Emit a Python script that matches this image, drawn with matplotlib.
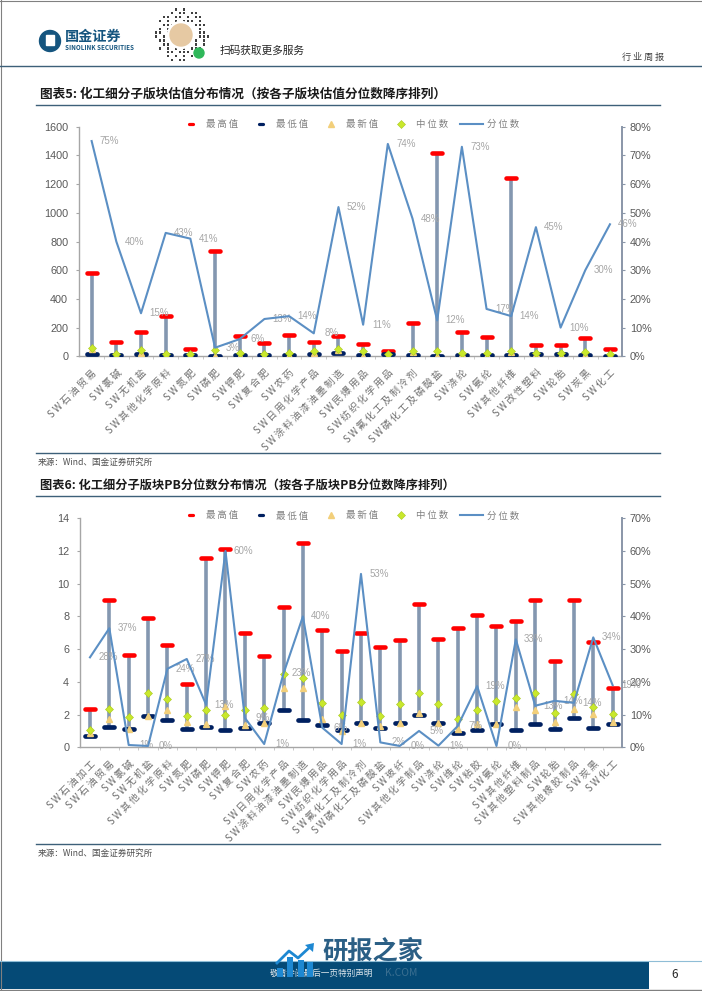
import matplotlib
matplotlib.use('Agg')
import matplotlib.pyplot as plt
from matplotlib.lines import Line2D
from matplotlib.markers import MarkerStyle
from matplotlib.patches import Rectangle, Circle, Polygon

plt.rcParams['font.family'] = ['Noto Sans CJK SC', 'DejaVu Sans']

# 图表5 数据
names1 = ['SW石油贸易', 'SW氯碱', 'SW无机盐', 'SW其他化学原料', 'SW氮肥', 'SW磷肥', 'SW钾肥', 'SW复合肥',
          'SW农药', 'SW日用化学产品', 'SW涂料油漆油墨制造', 'SW民爆用品', 'SW纺织化学用品', 'SW氟化工及制冷剂',
          'SW磷化工及磷酸盐', 'SW涤纶', 'SW氨纶', 'SW其他纤维', 'SW改性塑料', 'SW轮胎', 'SW炭黑', 'SW化工']
high1 = [583, 100, 172, 283, 49, 734, 142, 95, 149, 100, 142, 88, 37, 230, 1414, 167, 137, 1245, 77, 79, 128, 53]
low1 = [19, 9, 14, 9, 9, 5, 7, 9, 9, 14, 21, 9, 14, 12, 5, 12, 7, 7, 16, 14, 12, 3]
last1 = [50, 10, 20, 8, 8, 2, 3, 5, 12, 22, 45, 4, 5, 28, 1, 15, 12, 28, 18, 12, 8, 8]
median1 = [60, 14, 44, 14, 16, 44, 21, 16, 25, 40, 50, 35, 14, 35, 40, 25, 25, 37, 25, 21, 30, 16]
pct1 = [75, 40, 15, 43, 41, 3, 6, 13, 14, 8, 52, 11, 74, 48, 12.5, 73, 16.5, 14, 45, 10, 30, 46]
labels1 = ['75%', '40%', '15%', '43%', '41%', '3%', '6%', '13%', '14%', '8%', '52%', '11%', '74%', '48%',
           '12%', '73%', '17%', '14%', '45%', '10%', '30%', '46%']

# 图表6 数据
names2 = ['SW石油加工', 'SW石油贸易', 'SW氯碱', 'SW无机盐', 'SW其他化学原料', 'SW氮肥', 'SW磷肥', 'SW钾肥',
          'SW复合肥', 'SW农药', 'SW日用化学产品', 'SW涂料油漆油墨制造', 'SW民爆用品', 'SW纺织化学用品',
          'SW氟化工及制冷剂', 'SW磷化工及磷酸盐', 'SW玻纤', 'SW其他化学制品', 'SW涤纶', 'SW维纶', 'SW粘胶', 'SW氨纶',
          'SW其他纤维', 'SW其他塑料制品', 'SW轮胎', 'SW其他橡胶制品', 'SW炭黑', 'SW化工']
high2 = [2.35, 9.0, 5.65, 7.9, 6.25, 3.85, 11.55, 12.1, 7.0, 5.6, 8.6, 12.5, 7.2, 5.9,
         7.0, 6.15, 6.55, 8.75, 6.65, 7.3, 8.1, 7.4, 7.7, 9.0, 5.3, 9.0, 6.45, 3.65]
low2 = [0.7, 1.25, 1.1, 1.9, 1.65, 1.1, 1.25, 1.05, 1.15, 1.5, 2.3, 1.65, 1.35, 1.05,
        1.5, 1.2, 1.5, 1.95, 1.5, 0.9, 1.05, 1.45, 1.05, 1.45, 1.1, 1.8, 1.15, 1.4]
last2 = [0.85, 1.7, 1.1, 1.9, 2.3, 1.55, 1.45, 2.5, 1.35, 1.5, 3.65, 3.65, 1.7, 1.0,
         1.5, 1.3, 1.5, 2.1, 1.5, 1.1, 1.45, 1.45, 2.45, 2.25, 1.55, 2.35, 2.05, 1.55]
median2 = [1.05, 2.35, 1.85, 3.35, 2.95, 1.9, 2.25, 1.95, 2.3, 2.4, 4.5, 4.25, 2.7, 2.0,
           2.8, 1.9, 2.65, 3.35, 2.65, 1.7, 2.3, 2.85, 3.0, 3.35, 2.1, 3.25, 2.45, 2.05]
pct2 = [27.5, 36.4, 0.7, 0.4, 24, 27, 13, 60, 9, 1, 22.6, 40, 6, 1,
        53, 1.5, 0.4, 5, 0.5, 6.5, 18.7, 0.4, 33, 12.7, 14.2, 13.6, 33.6, 19]
labels2 = ['28%', '37%', '1%', '0%', '24%', '27%', '13%', '60%', '9%', '1%', '23%', '40%', '6%', '1%',
           '53%', '2%', '0%', '5%', '1%', '7%', '19%', '0%', '33%', '13%', '14%', '14%', '34%', '19%']

legend_names = ['最高值', '最低值', '最新值', '中位数', '分位数']

W, H = 702, 991
GRAY = '#595959'
STEM = '#8497b0'
LINE = '#5b8fc4'
RED = '#ff0000'
NAVY = '#002060'
TRI = '#f2cf7a'
DIA = '#c9e82c'
RULE = '#3d6079'
THIN = '\u2009'  # 原图的字距比较宽


def dash():
    return MarkerStyle('_', capstyle='round')


def spaced(s):
    return THIN.join(s)


def draw_chart(fig, box, names, high, low, last, median, pct, labels, ylim, yticks, rticks, rmax):
    left, top, right, bottom = box
    ax = fig.add_axes([left / W, 1 - bottom / H, (right - left) / W, (bottom - top) / H])
    xs = list(range(len(names)))
    ax.vlines(xs, low, high, color=STEM, lw=2.6, zorder=2)
    ax.plot(xs, high, ls='', marker=dash(), ms=7.2, mew=3.3, color=RED, zorder=3)
    ax.plot(xs, low, ls='', marker=dash(), ms=7.2, mew=3.4, color=NAVY, zorder=3)
    ax.plot(xs, last, ls='', marker='^', ms=5, color=TRI, mec=TRI, zorder=4)
    ax.plot(xs, median, ls='', marker='D', ms=3.6, color=DIA, mec='#a8c820', mew=0.4, zorder=5)
    ax.set_xlim(-0.5, len(names) - 0.5)
    ax.set_ylim(0, ylim)
    ax.set_yticks(yticks)
    ax.set_xticks(xs)
    ax.set_xticklabels([spaced(n) for n in names], rotation=45, ha='right', va='top', rotation_mode='anchor',
                       fontsize=7, color='#707070')
    ax.set_xticks([x + 0.5 for x in xs[:-1]], minor=True)
    ax.tick_params(axis='x', which='major', length=0, pad=8)
    ax.tick_params(axis='x', which='minor', length=2, color='#bfbfbf')
    ax.tick_params(axis='y', length=2, color='#a6a6a6', labelsize=7.8, labelcolor=GRAY, pad=6)
    for lab in ax.get_yticklabels():
        lab.set_family('Liberation Sans')
    for s in ['top', 'right']:
        ax.spines[s].set_visible(False)
    for s in ['left', 'bottom']:
        ax.spines[s].set_color('#a6a6a6')
        ax.spines[s].set_linewidth(1)

    ax2 = ax.twinx()
    ax2.plot(xs, pct, color=LINE, lw=1.5, zorder=6)
    ax2.set_ylim(0, rmax)
    ax2.set_yticks(rticks)
    ax2.set_yticklabels([f'{t}%' for t in rticks])
    ax2.tick_params(axis='y', length=2.5, color='#8a96a8', labelsize=7.8, labelcolor=GRAY, pad=3)
    for lab in ax2.get_yticklabels():
        lab.set_family('Liberation Sans')
    for s in ['top', 'left', 'bottom']:
        ax2.spines[s].set_visible(False)
    ax2.spines['right'].set_color('#8a96a8')
    ax2.spines['right'].set_linewidth(1.4)
    for x, p, t in zip(xs, pct, labels):
        ax2.annotate(t, (x, p), xytext=(13, 0), textcoords='offset points', ha='center', va='center',
                     fontsize=7, color='#a6a6a6', family='Liberation Sans', annotation_clip=False)

    handles = [
        Line2D([], [], ls='', marker=dash(), ms=3, mew=2.3, color=RED),
        Line2D([], [], ls='', marker=dash(), ms=3, mew=2.3, color=NAVY),
        Line2D([], [], ls='', marker='^', ms=4.5, color=TRI, mec=TRI),
        Line2D([], [], ls='', marker='D', ms=3.6, color=DIA, mec='#a8c820', mew=0.4),
        Line2D([], [], color=LINE, lw=1.5),
    ]
    fig.legend(handles, [spaced(n) for n in legend_names], ncol=5, frameon=False, loc='center',
               bbox_to_anchor=(349 / W, 1 - (top - 2.5) / H), fontsize=6.8, labelcolor='#808080',
               handlelength=2.44, handletextpad=0.4, columnspacing=1.17, borderpad=0)
    return ax, ax2


fig = plt.figure(figsize=(W / 100, H / 100), dpi=100, facecolor='white')

# 页面元素用一个铺满的坐标系画，单位是像素
bg = fig.add_axes([0, 0, 1, 1], zorder=-1)
bg.set_xlim(0, W)
bg.set_ylim(H, 0)
bg.axis('off')

top_bg = fig.add_axes([0, 0, 1, 1], zorder=20)
top_bg.set_xlim(0, W)
top_bg.set_ylim(H, 0)
top_bg.axis('off')
top_bg.patch.set_alpha(0)

# 边框
bg.plot([0.5, 0.5], [0, H], color='#808080', lw=0.8)
bg.plot([0, W], [0.5, 0.5], color='#808080', lw=0.8)
bg.plot([0, W], [H - 0.7, H - 0.7], color='#808080', lw=1)

# 页眉
bg.add_patch(Circle((50, 41), 10.5, color='#15557f'))
bg.add_patch(Rectangle((46, 35), 8, 10, color='white'))
bg.text(65, 37, '国金证券', fontsize=10.2, fontweight='bold', color='#15557f', va='center')
bg.text(65, 47.5, 'SINOLINK SECURITIES', fontsize=4.5, fontweight='bold', color='#15557f', va='center')

# 二维码：只是装饰，排几圈小方块
qr_rows = ['.##.##.#.#.###', '.##.#.##.##.#.', '#.##.##.#.##.#', '##.#.#.###.#.#', '#.###.#.#.####',
           '.#.##.#.##.#.#', '##.##.#.##.##.', '#.#.#.##.#.###', '.##.#.##.##.#.', '#.##.##.#.#.##',
           '##.#.#.#.###.#', '.#.##.###.#.#.', '#.##.#.#.##.##', '.##.#.##.##.#.']
for r, row in enumerate(qr_rows):
    for c, ch in enumerate(row):
        qx, qy = 154.5 + c * 4, 8 + r * 3.9
        if ch == '#' and (qx + 1 - 181) ** 2 + (qy + 1 - 34.5) ** 2 < 27 ** 2:
            bg.add_patch(Rectangle((qx, qy), 2.6, 2.6, color='#404040', lw=0))
bg.add_patch(Circle((181, 35), 13.5, color='white', zorder=3))
bg.add_patch(Circle((181, 35), 11, color='#e6c9a3', zorder=4))
bg.add_patch(Circle((199, 53), 5, color='#2fb85a', zorder=4))
bg.text(220, 51, '扫码获取更多服务', fontsize=7.7, color='#262626', va='center')
bg.text(664, 57, spaced('行业周报'), fontsize=6.6, color='#404040', va='center', ha='right')
bg.plot([0, W], [66, 66], color=RULE, lw=1)

# 标题和来源
bg.text(40, 94.5, '图表5: 化工细分子版块估值分布情况（按各子版块估值分位数降序排列）', fontsize=9.1,
        fontweight='bold', color='#1a1a1a', va='center')
bg.plot([36, 660], [104.7, 104.7], color=RULE, lw=1)
bg.plot([36, 660], [452.7, 452.7], color=RULE, lw=1)
bg.text(38, 462, '来源：Wind、国金证券研究所', fontsize=6.2, color='#505050', va='center')

bg.text(40, 485.5, '图表6: 化工细分子版块PB分位数分布情况（按各子版块PB分位数降序排列）', fontsize=8.8,
        fontweight='bold', color='#1a1a1a', va='center')
bg.plot([36, 660], [495.7, 495.7], color=RULE, lw=1)
bg.plot([36, 660], [843.5, 843.5], color=RULE, lw=1)
bg.text(38, 853, '来源：Wind、国金证券研究所', fontsize=6.2, color='#505050', va='center')

# 页脚
bg.add_patch(Rectangle((0, 961), 649, 28, color='#054a76', lw=0))
bg.plot([0, W], [960.5, 960.5], color='#8fbdd6', lw=0.8)
bg.text(270, 973, '敬请参阅最后一页特别声明', fontsize=6.2, color='#dfe8ee', va='center')
bg.text(675, 975, '6', fontsize=8.5, color='#262626', va='center', ha='center')

draw_chart(fig, (79.3, 126.7, 622.3, 356.3), names1, high1, low1, last1, median1, pct1, labels1,
           1600, list(range(0, 1601, 200)), list(range(0, 81, 10)), 80)
draw_chart(fig, (80.3, 518.3, 622.3, 747.3), names2, high2, low2, last2, median2, pct2, labels2,
           14, list(range(0, 15, 2)), list(range(0, 71, 10)), 70)

# 水印
for y0, y1, x1 in [(968, 977, 283), (957, 977, 293), (960, 977, 304), (962, 977, 313)]:
    top_bg.add_patch(Rectangle((x1 - 6, y0), 6, y1 - y0, color='#1e88d2', lw=0))
top_bg.plot([277, 289, 298, 311], [963, 951, 958, 946], color='#1e88d2', lw=2)
top_bg.add_patch(Polygon([[305, 945], [314, 943], [313, 952]], color='#1e88d2', lw=0))
top_bg.text(322, 951, '研报之家', fontsize=18.2, fontweight='bold', color='#2b5f85', va='center')
top_bg.text(385, 973, 'K.COM', fontsize=7.5, color='#6f93ab', va='center', alpha=0.5)

fig.savefig('out.png', dpi=100)
